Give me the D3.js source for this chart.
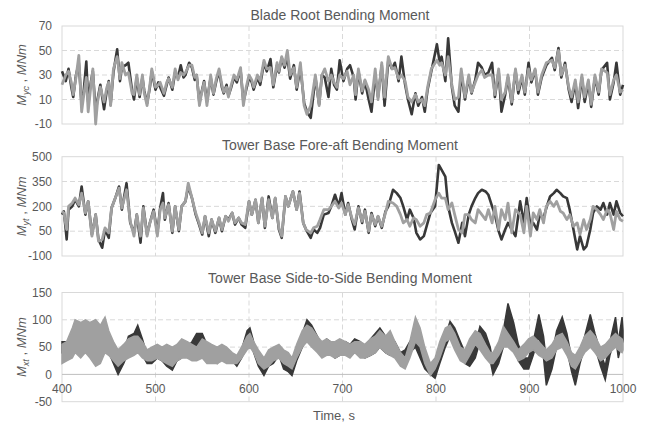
<!DOCTYPE html>
<html lang="en">
<head>
    <meta charset="UTF-8">
    <title>Bending moments</title>
    <script src="https://cdn.jsdelivr.net/npm/d3@7"></script>
    <style>
        body{
            margin:0;
            background:#fff;
        }
        text{
            font-family: "Liberation Sans", Arial, sans-serif;
            fill:#595959;
        }
        .tick{
            font-size:12px;
        }
        .title{
            font-size:14px;
        }
        .label{
            font-size:13px;
        }
        .frame{
            fill:none;
            stroke:#d9d9d9;
            stroke-width:1px;
        }
        .grid{
            stroke:#d9d9d9;
            stroke-width:1px;
            stroke-dasharray:5,3;
        }
        .zero{
            stroke:#bfbfbf;
            stroke-width:1px;
        }
        .dark{
            fill:none;
            stroke:#383838;
            stroke-width:2.6px;
            stroke-linejoin:round;
        }
        .light{
            fill:none;
            stroke:#a0a0a0;
            stroke-width:2.8px;
            stroke-linejoin:round;
        }
        .darkBand{
            fill:#383838;
            stroke:#383838;
            stroke-width:1.5px;
        }
        .lightBand{
            fill:#a0a0a0;
            stroke:#a0a0a0;
            stroke-width:1.5px;
        }
    </style>
</head>
<body>
<svg id="svg"></svg>
<script>
    var WIDTH = 649;
    var HEIGHT = 426;
    var LEFT = 62;
    var RIGHT = 623;

    var xTicks = [400, 500, 600, 700, 800, 900, 1000];

    // Blade root bending moment Myc (MNm)
    var bladeTime = [400,404,407,410,412,415,418,421,423,426,428,431,433,436,438,441,445,448,450,452,455,459,462,464,468,471,475,477,480,483,486,488,491,494,496,
        500,503,505,509,512,514,518,521,524,527,530,532,536,539,542,544,547,549,552,555,559,562,565,568,571,573,576,578,581,584,587,591,594,597,
        600,603,605,609,612,616,619,623,626,630,632,635,638,641,644,648,651,655,659,662,666,668,671,675,678,681,685,688,691,694,697,
        701,705,708,712,714,717,721,724,728,731,735,738,742,745,749,753,756,760,763,767,770,774,778,781,785,788,791,795,
        801,804,806,810,813,817,820,824,827,831,835,838,842,845,849,852,856,860,863,867,870,874,877,881,885,888,892,895,899,
        902,906,909,913,918,924,927,931,934,938,942,945,949,952,956,959,963,966,970,974,977,983,986,990,993,997,1000];
    var bladeDark = [33,25,35,20,12,30,40,5,15,41,8,25,33,0,10,22,2,18,25,6,32,51,25,36,38,40,17,10,28,12,28,17,7,20,33,
        18,24,20,13,22,28,18,32,28,38,28,30,40,36,26,30,7,15,25,8,28,14,25,33,20,15,22,13,20,28,24,34,8,18,
        28,24,18,28,22,40,33,43,20,38,32,44,36,45,27,38,18,36,7,0,-5,8,28,6,30,28,12,35,22,18,42,
        25,35,38,28,10,33,15,25,10,0,30,12,38,5,42,35,40,25,45,22,10,-2,15,5,12,0,18,33,
        55,40,45,25,60,20,5,0,32,10,28,15,26,40,36,30,32,40,12,33,0,14,28,6,34,15,28,14,40,
        24,34,14,28,38,44,34,52,28,40,18,8,24,3,28,8,24,4,28,14,34,40,10,24,40,14,22];
    var bladeLight = [22,30,33,24,14,28,46,0,12,28,0,22,35,-10,8,20,8,20,24,5,35,45,27,40,30,32,15,14,30,14,30,15,5,22,35,
        20,22,24,15,24,27,20,35,26,32,30,32,38,38,28,30,5,14,24,5,30,15,27,35,22,16,20,12,22,30,26,36,5,20,
        30,26,20,30,25,42,35,36,22,40,33,45,38,50,30,36,20,40,5,-2,5,15,30,5,30,35,25,30,24,20,30,
        27,33,22,30,14,35,17,26,18,8,35,10,40,12,45,35,36,27,30,25,12,8,14,8,10,5,20,35,
        42,38,40,30,45,22,10,12,35,12,30,16,24,30,34,28,30,30,14,35,10,16,30,8,35,18,30,16,35,
        26,35,16,30,40,42,36,50,30,38,20,12,26,8,30,12,26,6,30,16,35,32,14,26,30,16,18];

    // Tower base fore-aft bending moment Myt (MNm)
    var faTime = [400,402,404,405,407,411,414,418,421,425,428,432,436,439,443,446,450,453,457,461,464,469,473,477,480,484,487,491,494,498,
        502,505,508,510,514,518,521,525,528,532,535,539,543,546,550,553,557,560,564,568,571,575,578,582,585,589,592,596,
        600,603,607,610,614,617,621,625,628,632,635,639,642,647,651,654,658,661,666,669,673,676,680,685,688,692,696,699,
        703,706,710,713,717,721,724,728,731,735,738,742,746,749,754,758,762,765,769,772,776,779,783,787,790,794,799,
        803,806,810,813,817,820,824,828,831,835,838,842,845,849,853,856,860,863,867,870,874,877,881,885,890,894,897,
        901,904,908,911,915,918,922,926,929,933,936,940,943,947,951,954,958,961,965,968,972,976,979,983,986,990,993,997,1000];
    var faDark = [150,170,60,0,180,200,240,200,320,150,230,30,150,0,-50,60,10,190,250,320,180,340,100,40,150,-20,200,30,100,180,
        40,190,280,120,220,40,200,50,200,230,320,250,150,100,30,140,20,120,40,130,50,140,120,160,90,130,90,70,
        230,150,240,100,250,70,260,130,250,60,10,260,200,290,180,290,100,60,10,60,40,70,150,160,200,270,200,280,
        150,220,120,60,200,100,180,40,160,80,140,70,170,200,300,280,250,200,120,180,130,40,0,20,80,160,200,
        450,420,380,200,100,50,-20,100,20,150,200,250,280,300,290,270,200,150,50,0,60,100,60,20,230,100,250,
        80,100,60,150,130,190,260,280,300,280,260,250,180,60,-60,20,-60,-40,60,160,200,180,220,150,220,150,230,160,140];
    var faLight = [170,160,90,60,200,220,250,210,280,160,230,20,150,-10,0,70,40,190,250,310,190,300,110,20,150,20,190,20,100,170,
        20,180,220,130,210,50,200,60,200,230,340,250,160,110,40,140,40,120,50,130,60,140,110,160,100,130,100,90,
        230,150,240,100,250,80,240,130,250,70,20,260,200,290,180,280,100,60,40,70,80,120,180,180,200,230,190,220,
        150,210,130,90,190,110,170,50,150,90,140,80,160,230,220,200,150,100,120,80,130,120,80,100,150,160,240,
        280,250,250,180,220,150,60,40,150,150,120,100,180,150,120,180,100,200,60,180,120,220,40,180,150,40,200,
        20,160,120,180,100,200,230,200,230,170,160,120,150,80,100,30,120,60,120,200,180,150,120,180,160,60,170,120,110];

    // Tower base side-to-side bending moment Mxt (MNm), low and high edge of each band
    var ssTime = [400,405,411,414,420,425,430,436,441,446,450,455,460,466,471,477,481,486,491,496,
        502,507,512,518,523,528,534,539,544,550,555,560,566,571,576,582,587,592,598,
        601,605,610,616,621,626,632,637,642,646,651,657,662,667,673,678,683,687,692,697,
        703,708,713,719,724,730,735,740,746,751,756,762,767,772,778,783,788,794,799,
        804,810,815,820,826,831,836,842,847,853,858,861,867,872,877,883,888,894,899,
        904,910,915,918,924,929,935,940,945,949,954,959,965,970,976,981,986,992,995,999,1000];
    var ssDarkLo = [40,45,55,55,50,45,50,70,60,55,40,20,0,20,40,45,55,35,20,20,
        30,25,15,8,25,30,40,40,50,55,35,25,20,30,25,25,15,30,50,
        60,40,15,-2,15,20,35,10,5,-2,25,50,65,60,45,40,40,40,30,35,
        40,35,40,35,30,35,40,50,40,35,40,20,25,40,50,30,10,0,-7,
        20,50,70,60,40,20,15,30,60,55,25,0,20,50,75,60,25,10,10,
        35,70,30,-20,10,50,80,45,5,-20,20,50,70,50,15,-10,35,70,30,60,60];
    var ssDarkHi = [60,60,65,70,65,60,85,98,85,80,60,40,20,40,70,75,90,65,35,40,
        50,45,35,25,35,45,50,60,75,75,55,45,40,40,40,35,30,45,80,
        85,60,35,15,30,35,50,30,25,15,45,75,100,90,70,55,65,60,50,55,
        60,55,65,60,50,65,75,85,70,70,60,40,45,60,75,55,35,20,15,
        45,70,97,85,60,40,35,55,88,75,50,20,40,80,130,95,55,30,30,
        60,110,70,25,35,80,105,75,30,15,40,70,110,75,40,15,60,105,60,105,80];
    var ssLightLo = [20,25,30,40,30,40,30,15,20,40,35,25,15,25,30,35,40,30,25,25,
        30,25,20,15,25,30,30,25,25,30,20,20,20,25,20,20,20,30,45,
        50,40,20,10,15,25,30,20,15,10,30,50,60,50,40,30,35,35,30,35,
        35,30,40,30,30,35,40,50,40,35,30,15,10,30,60,50,20,-2,10,
        30,60,65,45,25,20,35,55,45,30,20,20,35,50,50,40,25,30,40,
        45,35,30,25,30,45,50,35,15,10,25,40,50,40,25,30,40,50,45,40,45];
    var ssLightHi = [55,60,85,100,95,100,95,100,90,105,80,60,45,55,65,70,70,60,45,50,
        55,50,55,50,55,65,60,55,50,65,60,55,50,55,50,40,35,50,70,
        75,60,45,30,45,50,55,45,40,30,55,80,90,85,70,60,65,60,60,65,
        60,55,60,60,55,65,70,80,70,80,60,40,30,60,105,85,50,20,30,
        60,85,90,75,50,45,65,80,75,55,40,40,60,88,75,60,45,55,65,
        70,60,50,45,55,70,75,60,40,35,50,70,80,70,50,55,65,75,70,65,60];

    var panels = [
        {title:"Blade Root Bending Moment", sub:"yc", top:26, bottom:124, domain:[-10,70], ticks:[-10,10,30,50,70], titleY:20},
        {title:"Tower Base Fore-aft Bending Moment", sub:"yt", top:156.7, bottom:256, domain:[-100,500], ticks:[-100,50,200,350,500], titleY:150},
        {title:"Tower Base Side-to-Side Bending Moment", sub:"xt", top:292.5, bottom:401.7, domain:[-50,150], ticks:[-50,0,50,100,150], titleY:282.5}
    ];

    var svg = d3.select("#svg")
                .attr("width", WIDTH)
                .attr("height", HEIGHT);

    var xScale = d3.scaleLinear()
                   .domain([400, 1000])
                   .range([LEFT, RIGHT]);

    var drawPanel = function(p){
        var yScale = d3.scaleLinear()
                       .domain(p.domain)
                       .range([p.bottom, p.top]);
        p.y = yScale;

        var g = svg.append("g").attr("class", "panel");

        // grid
        g.selectAll(".vgrid")
         .data(xTicks.slice(1, -1))
         .enter()
         .append("line")
         .attr("class", "grid")
         .attr("x1", function(d){return xScale(d)})
         .attr("x2", function(d){return xScale(d)})
         .attr("y1", p.top)
         .attr("y2", p.bottom);

        g.selectAll(".hgrid")
         .data(p.ticks.slice(1, -1).filter(function(d){return d !== 0}))
         .enter()
         .append("line")
         .attr("class", "grid")
         .attr("x1", LEFT)
         .attr("x2", RIGHT)
         .attr("y1", function(d){return yScale(d)})
         .attr("y2", function(d){return yScale(d)});

        g.append("rect")
         .attr("class", "frame")
         .attr("x", LEFT)
         .attr("y", p.top)
         .attr("width", RIGHT - LEFT)
         .attr("height", p.bottom - p.top);

        // y tick labels
        g.selectAll(".ylab")
         .data(p.ticks)
         .enter()
         .append("text")
         .attr("class", "tick")
         .attr("x", 52)
         .attr("y", function(d){return yScale(d)})
         .attr("dy", "0.35em")
         .attr("text-anchor", "end")
         .text(function(d){return d});

        g.append("text")
         .attr("class", "title")
         .attr("x", 340)
         .attr("y", p.titleY)
         .attr("text-anchor", "middle")
         .text(p.title);

        var lab = g.append("text")
                   .attr("class", "label")
                   .attr("transform", "translate(26," + ((p.top + p.bottom) / 2) + ") rotate(-90)")
                   .attr("text-anchor", "middle");
        lab.append("tspan").style("font-style", "italic").text("M");
        lab.append("tspan").style("font-style", "italic").style("font-size", "9px").attr("dy", 3).text(p.sub);
        lab.append("tspan").attr("dy", -3).text(" , ");
        lab.append("tspan").style("font-style", "italic").text("MNm");

        return g;
    };

    var g1 = drawPanel(panels[0]);
    var g2 = drawPanel(panels[1]);
    var g3 = drawPanel(panels[2]);

    // panel 1 and 2 lines
    var lineFor = function(times, yScale){
        return d3.line()
                 .x(function(d, i){return xScale(times[i])})
                 .y(function(d){return yScale(d)});
    };

    g1.append("path").datum(bladeDark).attr("class", "dark").attr("d", lineFor(bladeTime, panels[0].y));
    g1.append("path").datum(bladeLight).attr("class", "light").attr("d", lineFor(bladeTime, panels[0].y));

    g2.append("path").datum(faDark).attr("class", "dark").attr("d", lineFor(faTime, panels[1].y));
    g2.append("path").datum(faLight).attr("class", "light").attr("d", lineFor(faTime, panels[1].y));

    // panel 3 bands
    var y3 = panels[2].y;
    var bandFor = function(lo, hi){
        return d3.area()
                 .x(function(d, i){return xScale(ssTime[i])})
                 .y0(function(d, i){return y3(lo[i])})
                 .y1(function(d, i){return y3(hi[i])});
    };

    g3.append("line")
      .attr("class", "zero")
      .attr("x1", LEFT)
      .attr("x2", RIGHT)
      .attr("y1", y3(0))
      .attr("y2", y3(0));

    g3.append("path").datum(ssTime).attr("class", "darkBand").attr("d", bandFor(ssDarkLo, ssDarkHi));
    g3.append("path").datum(ssTime).attr("class", "lightBand").attr("d", bandFor(ssLightLo, ssLightHi));

    // x axis labels sit under the zero line
    g3.selectAll(".xlab")
      .data(xTicks)
      .enter()
      .append("text")
      .attr("class", "tick")
      .attr("x", function(d){return xScale(d)})
      .attr("y", y3(0) + 19)
      .attr("text-anchor", "middle")
      .text(function(d){return d});

    svg.append("text")
       .attr("class", "label")
       .attr("x", 334)
       .attr("y", 420)
       .attr("text-anchor", "middle")
       .text("Time, s");
</script>
</body>
</html>
